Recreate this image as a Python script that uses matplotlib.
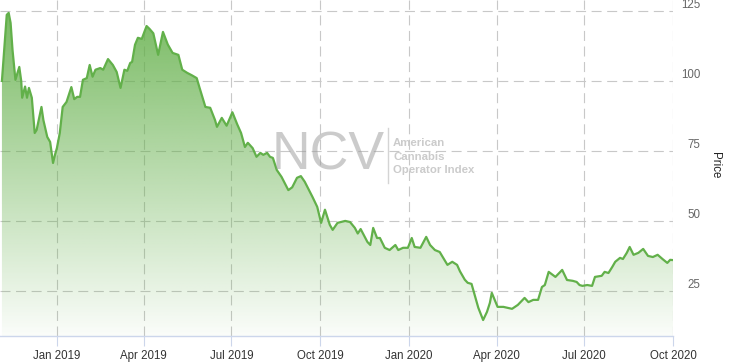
import numpy as np
import pandas as pd
import matplotlib
matplotlib.use("Agg")
import matplotlib.pyplot as plt
import matplotlib.dates as mdates
import matplotlib.transforms as mtrans
from matplotlib.patches import Polygon

# days counted from 2019-01-01, index level
days = [-57, -52, -50, -48, -46, -43, -39, -37, -36, -33, -31, -29, -26, -23, -21,
        -16, -14, -10, -7, -4, -2, 0, 3, 6, 10, 15, 18, 21, 24, 27, 31, 34, 37, 40,
        45, 48, 53, 58, 62, 64, 66, 70, 73, 76, 78, 81, 84, 88, 93, 96, 100, 105,
        110, 115, 120, 126, 130, 135, 140, 145, 148, 154, 159, 164, 166, 171, 176,
        182, 187, 191, 195, 198, 203, 207, 211, 214, 218, 221, 224, 228, 233, 240,
        244, 249, 253, 257, 265, 270, 274, 278, 283, 286, 291, 299, 304, 309, 312,
        315, 322, 325, 328, 332, 335, 340, 345, 351, 354, 359, 364, 368, 371, 377,
        383, 387, 392, 397, 405, 410, 415, 418, 423, 426, 430, 434, 437, 442, 446,
        449, 451, 454, 457, 463, 472, 478, 485, 489, 494, 499, 503, 506, 510, 517,
        524, 529, 535, 539, 542, 545, 550, 555, 558, 565, 568, 572, 576, 579, 584,
        587, 591, 594, 598, 603, 608, 613, 618, 623, 628, 633, 636, 639]
price = [100, 123.6, 124.3, 120.7, 111, 100.4, 105, 100, 94, 98, 94, 97.5, 94, 81.4, 82.5,
         90.7, 86, 80, 78.2, 70.7, 73.6, 76, 81.4, 90.7, 92.5, 97.8, 93.5, 94.3, 94.3, 100.4,
         101, 105.7, 101.5, 104, 104.6, 104, 107.8, 105.7, 103.2, 100.4, 97.5, 104, 103.6,
         106.4, 106.8, 112.9, 115.4, 115, 119.6, 118.6, 117, 109.3, 117.5, 113, 110, 109.3,
         104, 102.9, 102, 101, 97.5, 90.7, 90.4, 86, 83.6, 86.8, 84, 88.8, 84.5, 81.4, 76.4,
         77.9, 76, 72.9, 74.3, 73.6, 74.3, 72.9, 72.5, 68.2, 65.7, 61, 62, 65.4, 66, 64,
         58.6, 55, 49.3, 54, 48.6, 46.8, 49.3, 50, 49.6, 47.5, 45.5, 47.1, 42.5, 41.4, 47.5,
         43.9, 43.9, 40.4, 39.6, 41.4, 39.6, 40.4, 40.4, 43.9, 40.7, 40.4, 44.3, 41.4, 39.6,
         38.9, 34.3, 35.4, 34.3, 32, 29, 27.9, 27.5, 22.7, 19, 14.6, 17.5, 20.7, 24.3, 21.8,
         19.3, 19.3, 18.6, 20, 22.5, 21, 21.8, 21.8, 26.4, 27.1, 31.8, 30, 32.5, 28.9, 28.6,
         28.2, 27.1, 26.8, 27.1, 26.8, 30, 30.4, 31.8, 31.4, 33.6, 35.4, 36.8, 36.4, 38.6,
         40.7, 37.9, 38.6, 40, 37.5, 37.1, 37.9, 36.4, 35, 36.1, 36]

tick_dates = ['2019-01-01', '2019-04-01', '2019-07-01', '2019-10-01',
              '2020-01-01', '2020-04-01', '2020-07-01', '2020-10-01']
tick_labels = ['Jan 2019', 'Apr 2019', 'Jul 2019', 'Oct 2019',
               'Jan 2020', 'Apr 2020', 'Jul 2020', 'Oct 2020']
y_ticks = [25, 50, 75, 100, 125]

start = pd.Timestamp('2019-01-01')
x = mdates.date2num(start + pd.to_timedelta(days, unit='D'))
xt = mdates.date2num(pd.to_datetime(tick_dates))

plt.rcParams['font.family'] = ['Liberation Sans', 'DejaVu Sans']

fig = plt.figure(figsize=(7.34, 3.63), dpi=100)
ax = fig.add_axes([0, 0.0744, 0.917, 0.9256])

ymin, ymax = 8.9, 128.9
x0 = mdates.date2num(start + pd.Timedelta(days=-59))
x1 = xt[-1]
ax.set_xlim(x0, x1)
ax.set_ylim(ymin, ymax)

# gradient area fill clipped to the series shape
grad = np.zeros((256, 2, 4))
t = np.linspace(1, 0, 256)[:, None]
grad[..., 0] = 98 / 255
grad[..., 1] = 175 / 255
grad[..., 2] = 72 / 255
grad[..., 3] = 0.03 + 0.85 * t
img = ax.imshow(grad, aspect='auto', extent=[x0, x1, ymin, ymax], origin='upper', zorder=2)
poly = Polygon(np.column_stack([np.r_[x[0], x, x[-1]], np.r_[ymin, price, ymin]]),
               closed=True, facecolor='none', edgecolor='none')
ax.add_patch(poly)
img.set_clip_path(poly)

ax.plot(x, price, color='#62b04a', lw=1.6, zorder=3, solid_joinstyle='round')

# grid
ax.set_xticks(xt)
ax.set_xticklabels(tick_labels, fontsize=8.3, color='#333333')
ax.set_yticks(y_ticks)
ax.grid(True, color='#c8c8c8', lw=0.8, linestyle=(0, (9, 5)), zorder=1)
ax.set_axisbelow(True)

for s in ['left', 'top', 'right']:
    ax.spines[s].set_visible(False)
ax.spines['bottom'].set_color('#ccd6eb')
ax.spines['bottom'].set_linewidth(1)
ax.spines['bottom'].set_zorder(4)
ax.tick_params(axis='x', length=7.2, width=0.8, color='#ccd6eb', pad=3)

ax.yaxis.tick_right()
ax.tick_params(axis='y', length=0, pad=19.5, labelsize=8.3, labelcolor='#666666')
off = mtrans.ScaledTranslation(0, 7 / 100, fig.dpi_scale_trans)
for lab in ax.get_yticklabels():
    lab.set_horizontalalignment('right')
    lab.set_transform(lab.get_transform() + off)

fig.text(715 / 734, 1 - 165 / 363, 'Price', rotation=270, fontsize=8.3,
         color='#222222', ha='center', va='center')

# watermark
fig.text(272 / 734, 1 - 156 / 363, 'NCV', fontsize=38.5, color='#999999', alpha=0.5,
         ha='left', va='center', zorder=5)
fig.add_artist(plt.Line2D([388 / 734, 388 / 734], [1 - 128 / 363, 1 - 183 / 363],
                          color='#d4d4d4', lw=1, transform=fig.transFigure))
for i, line in enumerate(['American', 'Cannabis', 'Operator Index']):
    fig.text(393 / 734, 1 - (143 + 13.5 * i) / 363, line, fontsize=8.2,
             fontweight='bold', color='#cbcbcb', ha='left', va='center')

fig.savefig('out.png', dpi=100)
